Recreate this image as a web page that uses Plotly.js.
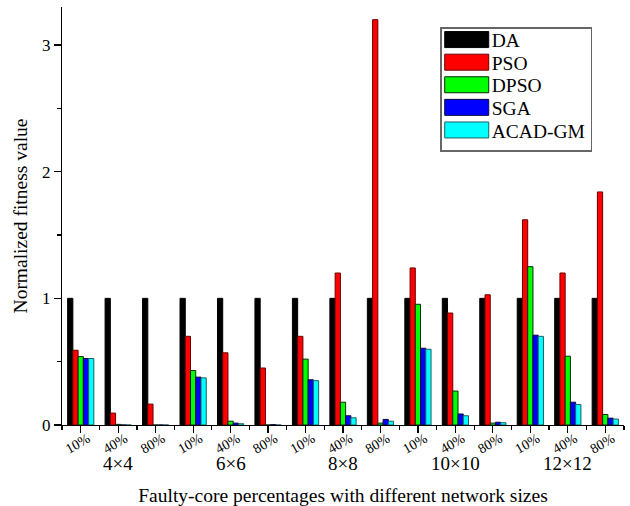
<!DOCTYPE html>
<html>
<head>
<meta charset="utf-8">
<script src="https://cdn.plot.ly/plotly-3.0.1.min.js"></script>
<style>
  html, body { margin: 0; padding: 0; background: #fff; }
  #chart { width: 630px; height: 506px; }
</style>
</head>
<body>
<div id="chart"></div>
<script>
// Network sizes and faulty-core percentages (each size has three percentage groups)
const networkSizes = ['4×4', '6×6', '8×8', '10×10', '12×12'];
const faultyPercents = ['10%', '40%', '80%'];

// Normalized fitness values, one entry per (size, percentage) group
const daValues     = [1, 1, 1, 1, 1, 1, 1, 1, 1, 1, 1, 1, 1, 1, 1];
const psoValues    = [0.59, 0.094, 0.165, 0.70, 0.57, 0.45, 0.70, 1.20, 3.20, 1.24, 0.884, 1.028, 1.62, 1.20, 1.84];
const dpsoValues   = [0.54, 0.005, 0, 0.43, 0.03, 0, 0.52, 0.18, 0.015, 0.953, 0.268, 0.015, 1.25, 0.543, 0.083];
const sgaValues    = [0.525, 0, 0, 0.378, 0.015, 0.003, 0.357, 0.073, 0.044, 0.606, 0.087, 0.022, 0.709, 0.18, 0.054];
const acadgmValues = [0.525, 0, 0, 0.372, 0.01, 0, 0.35, 0.057, 0.03, 0.598, 0.073, 0.018, 0.70, 0.162, 0.047];

const seriesNames = ['DA', 'PSO', 'DPSO', 'SGA', 'ACAD-GM'];
const seriesValues = [daValues, psoValues, dpsoValues, sgaValues, acadgmValues];
const fillColors = ['#000000', '#ff0000', '#00ff00', '#0000ff', '#00ffff'];
const edgeColors = ['#000000', '#6a0000', '#0a2a0a', '#0a0a40', '#1f5f5f'];

// One x slot per (size, percentage) group
const groupPos = [];
const groupTickText = [];
networkSizes.forEach((s, i) => {
  faultyPercents.forEach((p, j) => {
    groupPos.push(i * faultyPercents.length + j);
    groupTickText.push(p);
  });
});

const FONT = 'Liberation Serif';

const traces = seriesNames.map((name, k) => ({
  type: 'bar',
  name: name,
  x: groupPos,
  y: seriesValues[k],
  marker: { color: fillColors[k], line: { color: edgeColors[k], width: 1 } },
  hoverinfo: 'skip'
}));

// Network-size captions centred under the middle percentage of each triplet
const sizeAnnotations = networkSizes.map((s, i) => ({
  text: s,
  x: i * faultyPercents.length + 1,
  xref: 'x',
  y: -0.092,
  yref: 'paper',
  xanchor: 'center',
  yanchor: 'middle',
  showarrow: false,
  font: { family: FONT, size: 19, color: '#000' }
}));

const layout = {
  width: 630,
  height: 506,
  margin: { l: 62, r: 6, t: 7, b: 81 },
  paper_bgcolor: '#ffffff',
  plot_bgcolor: '#ffffff',
  font: { family: FONT, color: '#000' },
  barmode: 'group',
  bargap: 0.3,
  bargroupgap: 0,
  showlegend: true,
  legend: {
    x: 0.673, y: 0.952, xanchor: 'left', yanchor: 'top',
    bgcolor: '#ffffff',
    bordercolor: '#666666',
    borderwidth: 1.5,
    font: { family: FONT, size: 19.5, color: '#000' },
    tracegroupgap: 0,
    itemwidth: 40
  },
  xaxis: {
    range: [-0.5, 14.5],
    tickmode: 'array',
    tickvals: groupPos,
    ticktext: groupTickText,
    tickangle: -30,
    ticklabelshift: 7,
    ticklabelstandoff: -8,
    tickfont: { family: FONT, size: 14, color: '#000' },
    ticks: 'outside',
    ticklen: 7,
    tickwidth: 1.2,
    tickcolor: '#000',
    minor: { tickmode: 'linear', tick0: -0.5, dtick: 1, ticks: 'outside', ticklen: 4, tickwidth: 1.2, tickcolor: '#000' },
    showline: true,
    linecolor: '#000',
    linewidth: 1.2,
    showgrid: false,
    zeroline: false,
    title: {
      text: 'Faulty-core percentages with different network sizes',
      font: { family: FONT, size: 19.5, color: '#000' },
      standoff: 33
    }
  },
  yaxis: {
    range: [0, 3.3],
    tickmode: 'linear',
    tick0: 0,
    dtick: 1,
    ticks: 'outside',
    ticklen: 7,
    tickwidth: 1.2,
    tickcolor: '#000',
    minor: { tickmode: 'linear', tick0: 0, dtick: 0.5, ticks: 'outside', ticklen: 4, tickwidth: 1.2, tickcolor: '#000' },
    tickfont: { family: FONT, size: 17, color: '#000' },
    showline: true,
    linecolor: '#000',
    linewidth: 1.2,
    showgrid: false,
    zeroline: false,
    title: {
      text: 'Normalized fitness value',
      font: { family: FONT, size: 19.5, color: '#000' },
      standoff: 9
    }
  },
  annotations: sizeAnnotations
};

Plotly.newPlot('chart', traces, layout, { displayModeBar: false, staticPlot: true }).then(() => {
  const legend = document.querySelector('#chart .legend');
  if (!legend) return;
  // Long rectangular swatches
  legend.querySelectorAll('.legendpoints path').forEach(p => {
    p.setAttribute('d', 'M-22,-8H22V8H-22Z');
  });
  // Tighter row spacing
  const rowPitch = 22.6, firstRow = 12.5;
  legend.querySelectorAll('g.traces').forEach((g, i) => {
    const m = /translate\(\s*([-\d.]+)[ ,]+([-\d.]+)\s*\)/.exec(g.getAttribute('transform') || '');
    const tx = m ? parseFloat(m[1]) : 0;
    g.setAttribute('transform', 'translate(' + tx + ',' + (firstRow + i * rowPitch) + ')');
  });
  const bg = legend.querySelector('rect.bg');
  if (bg) bg.setAttribute('height', 123);
});
</script>
</body>
</html>
